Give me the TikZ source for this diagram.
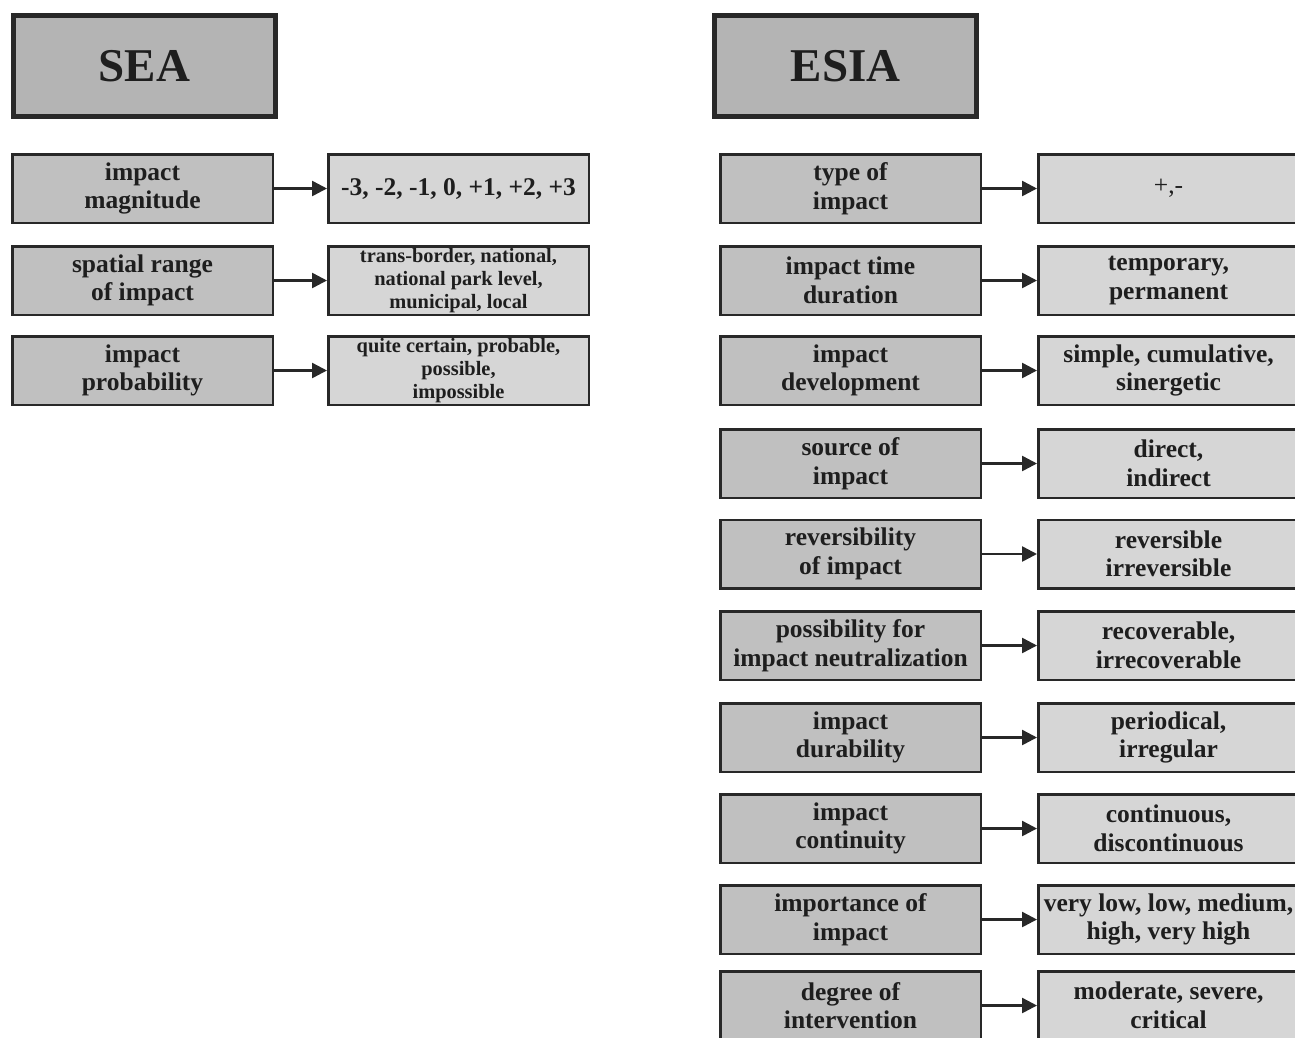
\documentclass[tikz,border=0pt]{standalone}
\usepackage{fontspec}
\setmainfont{Liberation Serif}
\usetikzlibrary{arrows.meta}
\definecolor{hdrfill}{RGB}{180,180,180}
\definecolor{keyfill}{RGB}{192,192,192}
\definecolor{valfill}{RGB}{214,214,214}
\definecolor{edgecol}{RGB}{40,40,40}
\definecolor{ink}{RGB}{30,30,30}
\tikzset{
 header/.style={draw=edgecol, line width=5pt, fill=hdrfill, minimum width=262pt, minimum height=101pt, font=\fontsize{47}{52}\selectfont\bfseries, text=ink},
 keybox/.style={draw=edgecol, line width=2.5pt, fill=keyfill, minimum width=260.5pt, minimum height=68.5pt, align=center, inner sep=1pt, font=\fontsize{25.5}{28.5}\selectfont\bfseries, text=ink},
 valbox/.style={keybox, fill=valfill},
 smallval/.style={valbox, font=\fontsize{20.4}{23}\selectfont\bfseries},
 plainval/.style={valbox, font=\fontsize{25.5}{28.5}\selectfont\mdseries},
 link/.style={draw=edgecol, line width=2.5pt, -{Triangle[length=15pt,width=15pt]}},
}
\begin{document}
\begin{tikzpicture}[x=1pt,y=-1pt]
\useasboundingbox (0,0) rectangle (1295,1037);
\clip (0,0) rectangle (1295,1037);
\fill[white] (0,0) rectangle (1295,1037);
% headers
\node[header] (sea) at (144.5,66) {SEA};
\node[header] (esia) at (845.5,66) {ESIA};
% SEA column
\node[keybox] (s1k) at (142.5,188.5) {impact\\magnitude};
\node[valbox] (s1v) at (458.5,188.5) {-3, -2, -1, 0, +1, +2, +3};
\node[keybox] (s2k) at (142.5,280.5) {spatial range\\of impact};
\node[smallval] (s2v) at (458.5,280.5) {trans-border, national,\\national park level,\\municipal, local};
\node[keybox] (s3k) at (142.5,370.5) {impact\\probability};
\node[smallval] (s3v) at (458.5,370.5) {quite certain, probable,\\possible,\\impossible};
\draw[link] (s1k) -- (s1v);
\draw[link] (s2k) -- (s2v);
\draw[link] (s3k) -- (s3v);
% ESIA column
\node[keybox] (e1k) at (850.5,188.5) {type of\\impact};
\node[plainval] (e1v) at (1168.5,188.5) {+,-};
\node[keybox] (e2k) at (850.5,280.5) {impact time\\duration};
\node[valbox] (e2v) at (1168.5,280.5) {temporary,\\permanent};
\node[keybox] (e3k) at (850.5,370.5) {impact\\development};
\node[valbox] (e3v) at (1168.5,370.5) {simple, cumulative,\\sinergetic};
\node[keybox] (e4k) at (850.5,463.5) {source of\\impact};
\node[valbox] (e4v) at (1168.5,463.5) {direct,\\indirect};
\node[keybox] (e5k) at (850.5,554) {reversibility\\of impact};
\node[valbox] (e5v) at (1168.5,554) {reversible\\irreversible};
\node[keybox] (e6k) at (850.5,645.5) {possibility for\\impact neutralization};
\node[valbox] (e6v) at (1168.5,645.5) {recoverable,\\irrecoverable};
\node[keybox] (e7k) at (850.5,737.5) {impact\\durability};
\node[valbox] (e7v) at (1168.5,737.5) {periodical,\\irregular};
\node[keybox] (e8k) at (850.5,828.5) {impact\\continuity};
\node[valbox] (e8v) at (1168.5,828.5) {continuous,\\discontinuous};
\node[keybox] (e9k) at (850.5,919.5) {importance of\\impact};
\node[valbox] (e9v) at (1168.5,919.5) {very low, low, medium,\\high, very high};
\node[keybox] (e10k) at (850.5,1005.5) {degree of\\intervention};
\node[valbox] (e10v) at (1168.5,1005.5) {moderate, severe,\\critical};
\foreach \i in {1,...,10} {\draw[link] (e\i k) -- (e\i v);}
\end{tikzpicture}
\end{document}
